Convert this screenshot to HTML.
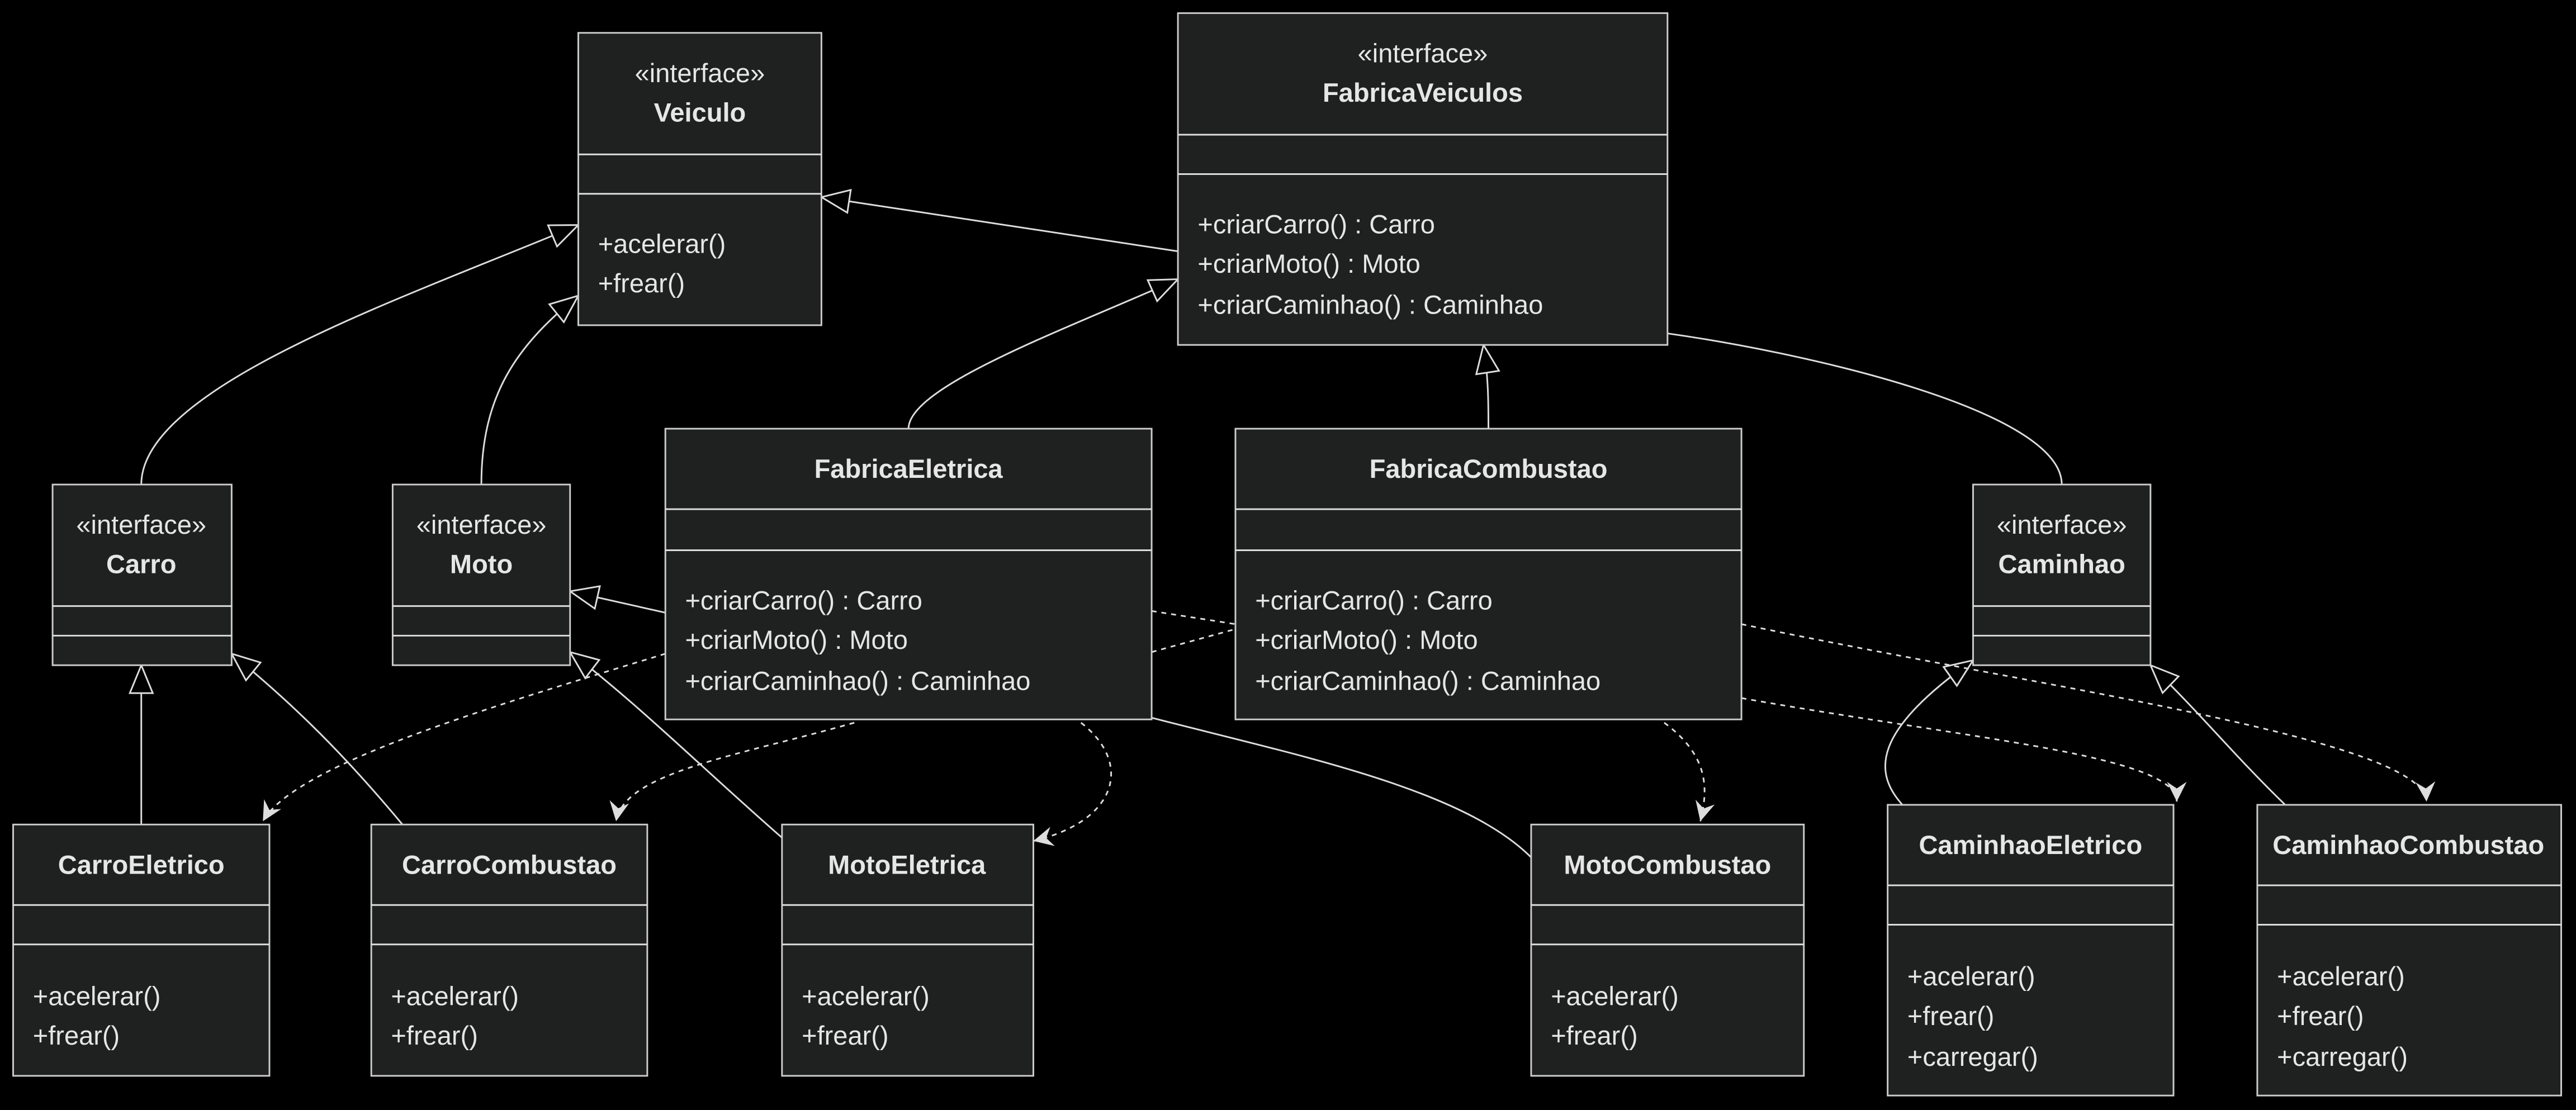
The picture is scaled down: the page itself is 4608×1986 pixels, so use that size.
<!DOCTYPE html>
<html><head><meta charset="utf-8"><style>
html,body{margin:0;padding:0;background:#000;width:4608px;height:1986px;overflow:hidden}
svg{display:block}
text{font-family:"Liberation Sans","DejaVu Sans",sans-serif;fill:#e6e6e6;font-size:16px}
.b{font-weight:bold}
.box{fill:#1f2020;stroke:#cccccc;stroke-width:1}
.ln{fill:none;stroke:#dddddd;stroke-width:1}
.ds{fill:none;stroke:#dddddd;stroke-width:1;stroke-dasharray:3 3}
</style></head><body>
<svg width="4608" height="1986" viewBox="0 0 1568 675.8" preserveAspectRatio="none" xmlns="http://www.w3.org/2000/svg">
<defs>
<marker id="tri" markerWidth="20" markerHeight="16" refX="18" refY="8" orient="auto" markerUnits="userSpaceOnUse">
<path d="M1,1 L18,8 L1,15 Z" fill="#000" stroke="#dddddd" stroke-width="1"/></marker>
<marker id="arr" markerWidth="14" markerHeight="12" refX="12" refY="6" orient="auto" markerUnits="userSpaceOnUse">
<path d="M0,0 L12,6 L0,12 L4,6 Z" fill="#dddddd"/></marker>
</defs>

<path class="ln" d="M86,295 C86,235 250,180 352,137" marker-end="url(#tri)"/>
<path class="ln" d="M293,295 C293,240 315,210 352,180" marker-end="url(#tri)"/>
<path class="ln" d="M717,153 L500,120" marker-end="url(#tri)"/>
<path class="ln" d="M553,261 C553,235 650,200 717,170" marker-end="url(#tri)"/>
<path class="ln" d="M906,261 C906,245 906,230 903,210" marker-end="url(#tri)"/>
<path class="ln" d="M1255,295 C1255,250 1100,215 1015,203"/>
<path class="ln" d="M86,502 L86,405" marker-end="url(#tri)"/>
<path class="ln" d="M245,502 C210,460 180,430 141,398" marker-end="url(#tri)"/>
<path class="ln" d="M405,373 L347,360" marker-end="url(#tri)"/>
<path class="ln" d="M476,510 C430,470 390,430 347,397" marker-end="url(#tri)"/>
<path class="ln" d="M932,522 C890,480 790,460 701,437"/>
<path class="ln" d="M1158,490 C1140,470 1140,445 1201,402" marker-end="url(#tri)"/>
<path class="ln" d="M1391,490 C1360,460 1340,435 1309,405" marker-end="url(#tri)"/>

<path class="ds" d="M405,398 C300,430 180,465 160,500" marker-end="url(#arr)"/>
<path class="ds" d="M520,440 C450,460 380,470 375,500" marker-end="url(#arr)"/>
<path class="ds" d="M658,440 C690,465 680,500 629,512" marker-end="url(#arr)"/>
<path class="ds" d="M701,372 L752,380"/>
<path class="ds" d="M701,397 L752,383"/>
<path class="ds" d="M1013,440 C1040,460 1040,480 1035,500" marker-end="url(#arr)"/>
<path class="ds" d="M1060,425 C1200,450 1325,460 1325,488" marker-end="url(#arr)"/>
<path class="ds" d="M1060,380 C1250,420 1475,450 1477,488" marker-end="url(#arr)"/>

<rect class="box" x="352" y="20" width="148" height="178"/>
<line class="ln" x1="352" y1="94" x2="500" y2="94"/><line class="ln" x1="352" y1="118" x2="500" y2="118"/>
<text x="426" y="50" text-anchor="middle">«interface»</text>
<text x="426" y="74" text-anchor="middle" class="b">Veiculo</text>
<text x="364" y="154">+acelerar()</text><text x="364" y="178">+frear()</text>

<rect class="box" x="717" y="8" width="298" height="202"/>
<line class="ln" x1="717" y1="82" x2="1015" y2="82"/><line class="ln" x1="717" y1="106" x2="1015" y2="106"/>
<text x="866" y="38" text-anchor="middle">«interface»</text>
<text x="866" y="62" text-anchor="middle" class="b">FabricaVeiculos</text>
<text x="729" y="142">+criarCarro() : Carro</text><text x="729" y="166">+criarMoto() : Moto</text><text x="729" y="191">+criarCaminhao() : Caminhao</text>

<rect class="box" x="32" y="295" width="109" height="110"/>
<line class="ln" x1="32" y1="369" x2="141" y2="369"/><line class="ln" x1="32" y1="387" x2="141" y2="387"/>
<text x="86" y="325" text-anchor="middle">«interface»</text><text x="86" y="349" text-anchor="middle" class="b">Carro</text>
<rect class="box" x="239" y="295" width="108" height="110"/>
<line class="ln" x1="239" y1="369" x2="347" y2="369"/><line class="ln" x1="239" y1="387" x2="347" y2="387"/>
<text x="293" y="325" text-anchor="middle">«interface»</text><text x="293" y="349" text-anchor="middle" class="b">Moto</text>
<rect class="box" x="1201" y="295" width="108" height="110"/>
<line class="ln" x1="1201" y1="369" x2="1309" y2="369"/><line class="ln" x1="1201" y1="387" x2="1309" y2="387"/>
<text x="1255" y="325" text-anchor="middle">«interface»</text><text x="1255" y="349" text-anchor="middle" class="b">Caminhao</text>

<rect class="box" x="405" y="261" width="296" height="177"/>
<line class="ln" x1="405" y1="310" x2="701" y2="310"/><line class="ln" x1="405" y1="335" x2="701" y2="335"/>
<text x="553" y="291" text-anchor="middle" class="b">FabricaEletrica</text>
<text x="417" y="371">+criarCarro() : Carro</text><text x="417" y="395">+criarMoto() : Moto</text><text x="417" y="420">+criarCaminhao() : Caminhao</text>

<rect class="box" x="752" y="261" width="308" height="177"/>
<line class="ln" x1="752" y1="310" x2="1060" y2="310"/><line class="ln" x1="752" y1="335" x2="1060" y2="335"/>
<text x="906" y="291" text-anchor="middle" class="b">FabricaCombustao</text>
<text x="764" y="371">+criarCarro() : Carro</text><text x="764" y="395">+criarMoto() : Moto</text><text x="764" y="420">+criarCaminhao() : Caminhao</text>

<rect class="box" x="8" y="502" width="156" height="153"/>
<line class="ln" x1="8" y1="551" x2="164" y2="551"/><line class="ln" x1="8" y1="575" x2="164" y2="575"/>
<text x="86" y="532" text-anchor="middle" class="b">CarroEletrico</text>
<text x="20" y="612">+acelerar()</text><text x="20" y="636">+frear()</text>

<rect class="box" x="226" y="502" width="168" height="153"/>
<line class="ln" x1="226" y1="551" x2="394" y2="551"/><line class="ln" x1="226" y1="575" x2="394" y2="575"/>
<text x="310" y="532" text-anchor="middle" class="b">CarroCombustao</text>
<text x="238" y="612">+acelerar()</text><text x="238" y="636">+frear()</text>

<rect class="box" x="476" y="502" width="153" height="153"/>
<line class="ln" x1="476" y1="551" x2="629" y2="551"/><line class="ln" x1="476" y1="575" x2="629" y2="575"/>
<text x="552" y="532" text-anchor="middle" class="b">MotoEletrica</text>
<text x="488" y="612">+acelerar()</text><text x="488" y="636">+frear()</text>

<rect class="box" x="932" y="502" width="166" height="153"/>
<line class="ln" x1="932" y1="551" x2="1098" y2="551"/><line class="ln" x1="932" y1="575" x2="1098" y2="575"/>
<text x="1015" y="532" text-anchor="middle" class="b">MotoCombustao</text>
<text x="944" y="612">+acelerar()</text><text x="944" y="636">+frear()</text>

<rect class="box" x="1149" y="490" width="174" height="177"/>
<line class="ln" x1="1149" y1="539" x2="1323" y2="539"/><line class="ln" x1="1149" y1="563" x2="1323" y2="563"/>
<text x="1236" y="520" text-anchor="middle" class="b">CaminhaoEletrico</text>
<text x="1161" y="600">+acelerar()</text><text x="1161" y="624">+frear()</text><text x="1161" y="649">+carregar()</text>

<rect class="box" x="1374" y="490" width="185" height="177"/>
<line class="ln" x1="1374" y1="539" x2="1559" y2="539"/><line class="ln" x1="1374" y1="563" x2="1559" y2="563"/>
<text x="1466" y="520" text-anchor="middle" class="b">CaminhaoCombustao</text>
<text x="1386" y="600">+acelerar()</text><text x="1386" y="624">+frear()</text><text x="1386" y="649">+carregar()</text>
</svg>
</body></html>
